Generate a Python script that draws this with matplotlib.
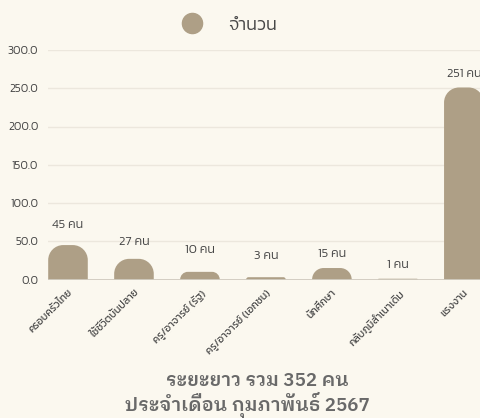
import matplotlib
matplotlib.use('Agg')
import matplotlib.pyplot as plt
import numpy as np
from matplotlib.path import Path
from matplotlib.patches import PathPatch
from matplotlib.lines import Line2D

# ข้อมูล
categories = ['ครอบครัวไทย', 'ใช้ชีวิตบั้นปลาย', 'ครู/อาจารย์ (รัฐ)', 'ครู/อาจารย์ (เอกชน)',
              'นักศึกษา', 'กลับภูมิลำเนาเดิม', 'แรงงาน']
values = [45, 27, 10, 3, 15, 1, 251]
series_name = 'จำนวน'
title_line1 = 'ระยะยาว รวม 352 คน'
title_line2 = 'ประจำเดือน กุมภาพันธ์ 2567'
y_ticks = [0, 50, 100, 150, 200, 250, 300]

# ระยะห่างของป้ายตัวเลขเหนือแท่ง (pixel)
label_gap = [20, 17, 22, 21, 14, 14, 13]

bg = '#fbf8ef'
bar_color = '#ae9f86'
text_color = '#474747'
font_main = 'Kanit'
font_title = 'IBM Plex Sans Thai Looped'

W, H = 481, 418
fig = plt.figure(figsize=(W / 100, H / 100), dpi=100, facecolor=bg)
ax = fig.add_axes([48 / W, 138.5 / H, 433 / W, 229.5 / H], facecolor=bg)

x = np.arange(len(categories))
bars = ax.bar(x, values, width=0.6, color=bar_color)
ax.set_xlim(-0.303, 6.26)
ax.set_ylim(0, 300)

for s in ax.spines.values():
    s.set_visible(False)
ax.set_yticks(y_ticks)
ax.set_yticklabels([f'{v:.1f}' for v in y_ticks], fontfamily=font_main, fontweight=300,
                   fontsize=8.3, color=text_color)
ax.tick_params(axis='y', length=0, pad=7)
ax.grid(axis='y', color='#ece7dd', lw=1)
ax.set_axisbelow(True)
ax.axhline(0, color='#cdc7bb', lw=1.2, zorder=3)

ax.set_xticks(x)
ax.set_xticklabels(categories, rotation=45, ha='right', va='top', rotation_mode='anchor',
                   fontfamily=font_main, fontweight=400, fontsize=7.6, color=text_color)
ax.tick_params(axis='x', length=0, pad=6)

# แท่งหัวมน
fig.canvas.draw()
px_x = ax.transData.transform((1, 0))[0] - ax.transData.transform((0, 0))[0]
px_y = ax.transData.transform((0, 1))[1] - ax.transData.transform((0, 0))[1]
k = 0.5523
for rect in bars:
    x0, w, h = rect.get_x(), rect.get_width(), rect.get_height()
    rect.set_visible(False)
    r = min(15, h * px_y, w * px_x / 2)
    rx, ry = r / px_x, r / px_y
    x1 = x0 + w
    verts = [(x0, 0), (x0, h - ry),
             (x0, h - ry + k * ry), (x0 + rx - k * rx, h), (x0 + rx, h),
             (x1 - rx, h),
             (x1 - rx + k * rx, h), (x1, h - ry + k * ry), (x1, h - ry),
             (x1, 0), (x0, 0)]
    codes = [Path.MOVETO, Path.LINETO,
             Path.CURVE4, Path.CURVE4, Path.CURVE4,
             Path.LINETO,
             Path.CURVE4, Path.CURVE4, Path.CURVE4,
             Path.LINETO, Path.CLOSEPOLY]
    ax.add_patch(PathPatch(Path(verts, codes), facecolor=bar_color, edgecolor='none', zorder=2))

for i, rect in enumerate(bars):
    ax.annotate(f'{values[i]} คน', (rect.get_x() + rect.get_width() / 2, rect.get_height()),
                xytext=(0, label_gap[i] * 0.72), textcoords='offset points',
                ha='center', va='center', fontfamily=font_main, fontweight=300,
                fontsize=9, color=text_color, annotation_clip=False)

handle = Line2D([], [], marker='o', ls='none', markersize=14.5, color=bar_color)
fig.legend([handle], [series_name], loc='center', bbox_to_anchor=(225 / W, 1 - 25 / H),
           frameon=False, prop={'family': font_main, 'weight': 300, 'size': 13},
           handletextpad=1.0, labelcolor=text_color)

fig.text(257 / W, 1 - 381 / H, title_line1, ha='center', va='center', fontfamily=font_title,
         fontweight=600, fontsize=13.6, color='#696969')
fig.text(247 / W, 1 - 405 / H, title_line2, ha='center', va='center', fontfamily=font_title,
         fontweight=600, fontsize=13.6, color='#696969')

fig.savefig('out.png', dpi=100, facecolor=bg)
